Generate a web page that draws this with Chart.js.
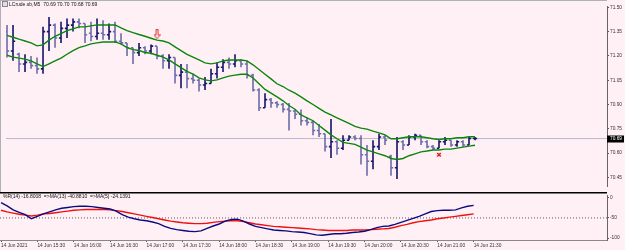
<!DOCTYPE html>
<html><head><meta charset="utf-8">
<script src="https://cdn.jsdelivr.net/npm/chart.js@4.4.1/dist/chart.umd.min.js"></script>
<style>
html,body{margin:0;padding:0;background:#fff0f5;width:625px;height:250px;overflow:hidden;}
#wrap{position:relative;width:625px;height:250px;}
canvas{position:absolute;left:0;}
#c1{top:0;} #c2{top:192px;}
.lbl{position:absolute;font-family:"Liberation Sans",Arial,sans-serif;font-size:5px;line-height:6px;color:#111;white-space:pre;}
.ico{position:absolute;left:2px;top:1px;width:4px;height:4px;border:1px solid #888;background:#dde;}
.frame{position:absolute;background:#b0b0b8;}
</style></head><body>
<div id="wrap">
<canvas id="c1" width="625" height="192"></canvas>
<canvas id="c2" width="625" height="58"></canvas>
<div class="frame" style="left:0;top:0;width:607px;height:1px"></div>
<div class="frame" style="left:0;top:0;width:1px;height:192px"></div>
<div class="ico"></div>
<div class="lbl" style="left:9px;top:1px">LCrude.sb,M5  70.69 70.70 70.68 70.69</div>
<div class="lbl" style="left:3px;top:193px">%R(14) -16.8008  =&gt;MA(13) -40.8810  =&gt;MA(5) -24.1391</div>
</div>
<script>
// ---- data ----
const timeLabels = ['14 Jun 2021','14 Jun 15:30','14 Jun 16:00','14 Jun 16:30','14 Jun 17:00','14 Jun 17:30','14 Jun 18:00','14 Jun 18:30','14 Jun 19:00','14 Jun 19:30','14 Jun 20:00','14 Jun 20:30','14 Jun 21:00','14 Jun 21:30'];
const barsPerLabel = 6;
const priceTicks = [70.45,70.60,70.75,70.90,71.05,71.20,71.35,71.50];
const wprTicks = [0,-50,-100];
const wprLevel = -50;
const lastPrice = 70.69;
const arrowSignal = {bar:25, price:71.333};
const crossSignal = {bar:72, price:70.59};

const opens = [71.35,71.23,71.21,71.15,71.16,71.14,71.12,71.35,71.39,71.31, 71.37,71.39,71.41,71.40,71.34,71.32,71.34,71.33,71.35,71.29, 71.28,71.25,71.22,71.25,71.23,71.26,71.20,71.17,71.19,71.08, 71.10,71.06,71.05,71.02,71.03,71.09,71.13,71.16,71.15,71.17, 71.15,71.08,70.99,70.88,70.93,70.91,70.90,70.87,70.86,70.84, 70.80,70.79,70.74,70.72,70.64,70.67,70.63,70.68,70.70,70.69, 70.59,70.55,70.64,70.70,70.58,70.51,70.67,70.65,70.70,70.71, 70.67,70.64,70.63,70.67,70.68,70.65,70.67,70.65,70.69];
const highs = [71.39,71.39,71.22,71.21,71.20,71.19,71.38,71.44,71.40,71.41, 71.43,71.43,71.43,71.40,71.41,71.43,71.42,71.40,71.41,71.34, 71.28,71.25,71.28,71.26,71.27,71.26,71.21,71.21,71.19,71.15, 71.15,71.09,71.06,71.07,71.12,71.16,71.18,71.19,71.21,71.18, 71.17,71.09,71.00,70.97,70.94,70.92,70.91,70.91,70.87,70.87, 70.82,70.80,70.78,70.72,70.81,70.68,70.71,70.71,70.71,70.71, 70.65,70.68,70.72,70.71,70.59,70.70,70.68,70.71,70.72,70.71, 70.68,70.65,70.68,70.70,70.68,70.68,70.68,70.70,70.70];
const lows = [71.19,71.17,71.10,71.10,71.12,71.09,71.09,71.23,71.25,71.28, 71.31,71.35,71.37,71.28,71.29,71.30,71.30,71.30,71.28,71.27, 71.20,71.15,71.20,71.21,71.21,71.18,71.12,71.12,71.03,71.00, 71.00,71.03,70.98,70.99,71.03,71.06,71.10,71.12,71.13,71.13, 71.06,70.98,70.86,70.88,70.88,70.88,70.85,70.74,70.81,70.77, 70.77,70.71,70.70,70.61,70.57,70.59,70.62,70.68,70.68,70.53, 70.46,70.50,70.62,70.65,70.46,70.44,70.62,70.65,70.68,70.65, 70.63,70.62,70.63,70.65,70.64,70.64,70.64,70.65,70.68];
const closes = [71.23,71.29,71.15,71.16,71.14,71.12,71.35,71.39,71.31,71.37, 71.39,71.41,71.40,71.33,71.32,71.34,71.33,71.35,71.29,71.28, 71.25,71.22,71.25,71.23,71.26,71.20,71.17,71.19,71.08,71.10, 71.06,71.05,71.02,71.03,71.09,71.13,71.16,71.15,71.17,71.15, 71.08,70.99,70.88,70.93,70.91,70.90,70.87,70.86,70.84,70.80, 70.79,70.74,70.72,70.64,70.67,70.63,70.68,70.70,70.69,70.59, 70.55,70.64,70.70,70.68,70.51,70.67,70.65,70.70,70.71,70.67, 70.64,70.63,70.67,70.68,70.65,70.67,70.65,70.69,70.69];

const upperBand = [71.327,71.315,71.303,71.292,71.280,71.262,71.268,71.297,71.321,71.338, 71.356,71.367,71.379,71.379,71.385,71.391,71.391,71.391,71.391,71.373, 71.356,71.344,71.332,71.321,71.309,71.297,71.292,71.280,71.256,71.233, 71.210,71.192,71.175,71.157,71.151,71.157,71.169,71.175,71.175,71.175, 71.169,71.145,71.116,71.087,71.058,71.028,71.011,70.988,70.970,70.947, 70.923,70.900,70.876,70.853,70.836,70.818,70.800,70.783,70.765,70.754, 70.748,70.736,70.725,70.713,70.689,70.689,70.695,70.701,70.701,70.701, 70.695,70.689,70.684,70.689,70.689,70.695,70.695,70.701,70.701];
const lowerBand = [71.204,71.192,71.186,71.180,71.169,71.151,71.134,71.151,71.169,71.186, 71.210,71.233,71.251,71.262,71.274,71.280,71.286,71.286,71.286,71.274, 71.251,71.239,71.233,71.221,71.216,71.204,71.192,71.175,71.151,71.128, 71.104,71.087,71.064,71.052,71.046,71.052,71.064,71.075,71.081,71.087, 71.087,71.064,71.028,70.993,70.970,70.947,70.923,70.894,70.871,70.836, 70.818,70.800,70.771,70.742,70.713,70.689,70.666,70.660,70.654,70.637, 70.619,70.608,70.596,70.584,70.567,70.561,70.567,70.584,70.596,70.608, 70.613,70.619,70.619,70.625,70.625,70.631,70.637,70.643,70.649];

const wprFastMA = [-12,-20,-30,-36,-42,-52,-46,-40,-35,-30, -26,-24,-22,-21,-21,-22,-24,-26,-28,-33, -42,-48,-52,-55,-57,-60,-64,-71,-76,-79, -81,-83,-84,-82,-76,-70,-65,-58,-54,-53, -58,-65,-71,-74,-77,-80,-81,-82,-84,-85, -86,-89,-92,-93,-91,-89,-89,-88,-86,-85, -83,-79,-74,-71,-70,-66,-61,-56,-51,-46, -40,-34,-32,-31,-31,-30,-25,-21,-19];
const wprSlowMA = [-31,-35,-38,-41,-43,-45,-43,-40,-39,-37, -35,-33,-31,-30,-29,-29,-29,-29,-30,-32, -34,-37,-40,-43,-46,-49,-52,-55,-58,-60, -62,-63,-64,-64,-63,-61,-59,-58,-57,-57, -59,-62,-65,-67,-69,-71,-72,-73,-74,-75, -76,-77,-79,-80,-81,-81,-81,-81,-80,-80, -80,-79,-78,-77,-76,-73,-69,-66,-62,-59, -57,-55,-52,-50,-48,-46,-44,-42,-40];

// ---- layout / style ----
const X_MIN = -0.17, X_MAX = 100;
const AXIS_W = 18;
const TICK_SPAN = 0.36;
const BULL = '#14146a', BEAR = '#6c6caa', GREEN = '#0a860a';
const FONT = {family:'"Liberation Sans", Arial, sans-serif', size:4.8};

function ohlcPath(up){
  const pts = [];
  for (let i=0;i<opens.length;i++){
    const isUp = closes[i] >= opens[i];
    if (isUp !== up) continue;
    pts.push({x:i,y:lows[i]},{x:i,y:highs[i]},{x:i,y:null});
    pts.push({x:i-TICK_SPAN,y:opens[i]},{x:i,y:opens[i]},{x:i,y:null});
    pts.push({x:i,y:closes[i]},{x:i+TICK_SPAN,y:closes[i]},{x:i,y:null});
  }
  return pts;
}
const series = arr => arr.map((v,i)=>({x:i,y:v}));

function makeArrow(){
  const c=document.createElement('canvas'); c.width=7; c.height=10;
  const g=c.getContext('2d'); g.strokeStyle='#e53030'; g.lineWidth=1;
  g.beginPath(); g.moveTo(2.5,0.5); g.lineTo(4.5,0.5); g.lineTo(4.5,5.5); g.lineTo(6.5,5.5);
  g.lineTo(3.5,9.5); g.lineTo(0.5,5.5); g.lineTo(2.5,5.5); g.closePath(); g.stroke();
  return c;
}

const priceTag = {
  id:'priceTag',
  afterDraw(chart){
    const y = chart.scales.y.getPixelForValue(lastPrice);
    const ctx = chart.ctx, r = chart.chartArea.right;
    ctx.save();
    ctx.fillStyle='#000'; ctx.fillRect(r, Math.round(y)-3.5, 17, 7);
    ctx.fillStyle='#fff'; ctx.font='4.8px "Liberation Sans", Arial, sans-serif';
    ctx.textBaseline='middle'; ctx.fillText(lastPrice.toFixed(2), r+3, y);
    ctx.restore();
  }
};

const yRightCommon = {
  position:'right',
  afterFit:s=>{s.width=AXIS_W;},
  grid:{drawOnChartArea:false,drawTicks:true,tickLength:2,color:'#555'},
  border:{display:true,color:'#666',width:1},
  ticks:{font:FONT,color:'#333',padding:1,autoSkip:false}
};

new Chart(document.getElementById('c1'), {
  type:'line',
  data:{datasets:[
    {data:[{x:arrowSignal.bar,y:arrowSignal.price}], showLine:false, pointStyle:makeArrow(), pointRadius:5, order:0},
    {data:[{x:crossSignal.bar,y:crossSignal.price}], showLine:false, pointStyle:'crossRot', pointRadius:2.5, borderColor:'#e82020', borderWidth:1.6, order:0},
    {data:series(upperBand), borderColor:GREEN, borderWidth:1.4, pointRadius:0, tension:0, order:1},
    {data:series(lowerBand), borderColor:GREEN, borderWidth:1.4, pointRadius:0, tension:0, order:1},
    {data:ohlcPath(true), borderColor:BULL, borderWidth:1.6, pointRadius:0, spanGaps:false, order:2},
    {data:ohlcPath(false), borderColor:BEAR, borderWidth:1.6, pointRadius:0, spanGaps:false, order:2},
    {data:[{x:X_MIN,y:lastPrice},{x:X_MAX,y:lastPrice}], borderColor:'#b9b9cc', borderWidth:1, pointRadius:0, order:3}
  ]},
  options:{
    responsive:false, animation:false, devicePixelRatio:1, events:[],
    layout:{padding:{top:1,bottom:1,left:0,right:0}},
    plugins:{legend:{display:false},tooltip:{enabled:false}},
    scales:{
      x:{type:'linear',min:X_MIN,max:X_MAX,display:false},
      y:Object.assign({}, yRightCommon, {
        min:70.3973, max:71.5078,
        afterBuildTicks:s=>{s.ticks=priceTicks.map(v=>({value:v}));},
        ticks:Object.assign({}, yRightCommon.ticks, {callback:v=>Number(v).toFixed(2)})
      })
    }
  },
  plugins:[priceTag]
});

const topLine = {
  id:'topLine',
  beforeDraw(chart){
    const ctx=chart.ctx; ctx.save(); ctx.fillStyle='#000';
    ctx.fillRect(0,0,chart.chartArea.right,1.5); ctx.restore();
  }
};

new Chart(document.getElementById('c2'), {
  type:'line',
  data:{datasets:[
    {data:series(wprFastMA), borderColor:'#0b0b80', borderWidth:1.4, pointRadius:0, tension:0, order:0},
    {data:series(wprSlowMA), borderColor:'#f01010', borderWidth:1.4, pointRadius:0, tension:0, order:1},
    {data:[{x:X_MIN,y:wprLevel},{x:X_MAX,y:wprLevel}], borderColor:'#333', borderWidth:0.8, borderDash:[1,2], pointRadius:0, order:2}
  ]},
  options:{
    responsive:false, animation:false, devicePixelRatio:1, events:[],
    layout:{padding:{top:1,bottom:0,left:0,right:0}},
    plugins:{legend:{display:false},tooltip:{enabled:false}},
    scales:{
      x:{type:'linear',min:X_MIN,max:X_MAX,position:'bottom',
        afterFit:s=>{s.height=10;},
        afterBuildTicks:s=>{s.ticks=timeLabels.map((t,k)=>({value:k*barsPerLabel}));},
        grid:{drawOnChartArea:false,drawTicks:true,tickLength:2,color:'#555'},
        border:{display:true,color:'#888',width:1},
        ticks:{font:FONT,color:'#333',padding:1,align:'start',autoSkip:false,maxRotation:0,minRotation:0,
          callback:(v,idx)=>timeLabels[idx]}
      },
      y:Object.assign({}, yRightCommon, {
        min:-104.65, max:4.65,
        afterBuildTicks:s=>{s.ticks=wprTicks.map(v=>({value:v}));},
        ticks:Object.assign({}, yRightCommon.ticks, {callback:v=>String(v)})
      })
    }
  },
  plugins:[topLine]
});
</script>
</body></html>
